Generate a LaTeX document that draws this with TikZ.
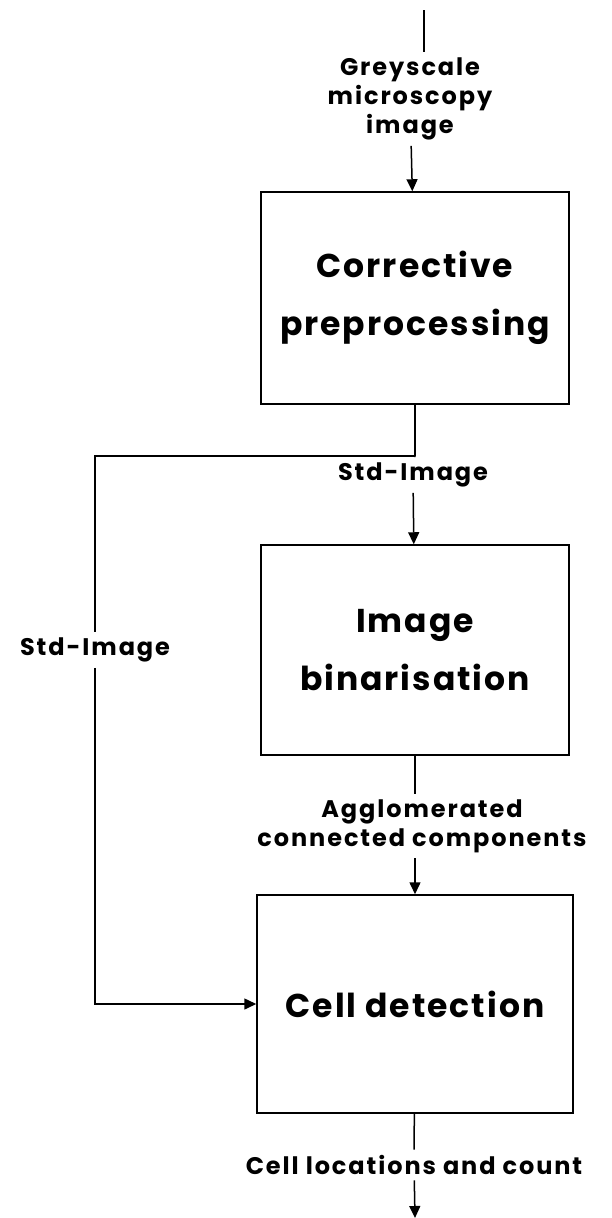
\documentclass[tikz,border=0pt]{standalone}
\usepackage{fontspec}
\setmainfont{Poppins}
\usetikzlibrary{arrows.meta,positioning}

\begin{document}
\begin{tikzpicture}[x=1pt,y=-1pt,line width=1.5pt,
    >={Triangle[length=12pt,width=11pt]},
    stage/.style={draw,minimum width=308pt,minimum height=212pt,align=center,
      font=\bfseries\fontsize{33}{58}\selectfont\addfontfeatures{LetterSpace=6}},
    flow/.style={align=center,inner sep=5pt,
      font=\bfseries\fontsize{24}{29}\selectfont\addfontfeatures{LetterSpace=8}}]
  \useasboundingbox (0,0) rectangle (612,1218);
  % processing stages
  \node[stage] (prep) at (415,298) {Corrective\\preprocessing};
  \node[stage,minimum height=210pt] (bin) at (415,650) {Image\\binarisation};
  \node[stage,minimum width=316pt,minimum height=218pt] (cell) at (415,1004) {Cell detection};
  % data between stages
  \node[flow] (grey) at (410,99) {Greyscale\\microscopy\\image};
  \node[flow] (std1) at (413,475) {Std-Image};
  \node[flow] (std2) at (95,650) {Std-Image};
  \node[flow] (agg) at (422,826) {Agglomerated\\connected components};
  \node[flow] (res) at (414,1165) {Cell locations and count};
  \coordinate (in) at (424,10);
  \coordinate (split) at (415,456);
  \coordinate (out) at (415,1218);
  % connectors
  \draw (in) -- (in |- grey.north);
  \draw[->] (grey) -- (prep);
  \draw (prep.south) -- (split);
  \draw (split) -- (std1);
  \draw[->] (std1) -- (bin);
  \draw (split) -| (std2);
  \draw[->] (std2) |- (cell);
  \draw (bin) -- (bin |- agg.north);
  \draw[->] (bin |- agg.south) -- (cell);
  \draw (cell) -- (res);
  \draw[->] (res) -- (out);
\end{tikzpicture}
\end{document}
